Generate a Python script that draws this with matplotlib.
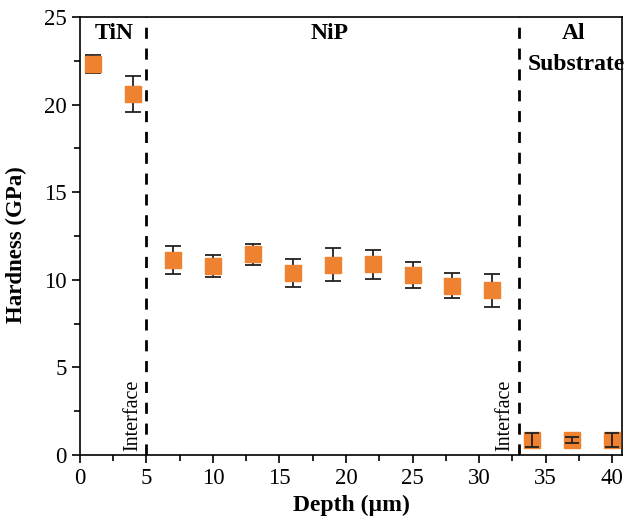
import matplotlib
matplotlib.use("Agg")
import matplotlib.pyplot as plt
from matplotlib.ticker import MultipleLocator

plt.rcParams['font.family'] = ['Liberation Serif', 'DejaVu Serif']

# indentation hardness vs depth
depth = [1, 4, 7, 10, 13, 16, 19, 22, 25, 28, 31]
hardness = [22.3, 20.6, 11.1, 10.8, 11.45, 10.4, 10.85, 10.87, 10.25, 9.67, 9.4]
err = [0.5, 1.0, 0.8, 0.63, 0.6, 0.8, 0.95, 0.85, 0.75, 0.72, 0.93]

sub_depth = [34, 37, 40]
sub_hardness = [0.85, 0.85, 0.85]
sub_err = [0.38, 0.15, 0.4]

interfaces = [5, 33]
orange = '#ee8230'

fig = plt.figure(figsize=(6.24, 5.29), dpi=100)
ax = fig.add_axes([0.128, 0.14, 0.869, 0.828])

ax.errorbar(depth, hardness, yerr=err, fmt='none', ecolor='#222222',
            elinewidth=1.3, capsize=6, capthick=1.3, zorder=2)
ax.plot(depth, hardness, 's', color=orange, ms=11.5, zorder=3)

ax.plot(sub_depth, sub_hardness, 's', color=orange, ms=11.5, zorder=3)
ax.errorbar(sub_depth, sub_hardness, yerr=sub_err, fmt='none', ecolor='#222222',
            elinewidth=1.3, capsize=5, capthick=1.3, zorder=4)

for xi in interfaces:
    ax.axvline(xi, color='black', lw=2, ls=(0, (4, 3.5)), zorder=1)

bold = dict(fontsize=17, fontweight='bold', ha='center', va='center')
ax.text(2.55, 24.05, 'TiN', **bold)
ax.text(18.8, 24.05, 'NiP', **bold)
ax.text(37.1, 24.05, 'Al', **bold)
ax.text(37.3, 22.3, 'Substrate', **bold)
ax.text(3.95, 0.2, 'Interface', fontsize=14.5, rotation=90, ha='center', va='bottom')
ax.text(31.95, 0.2, 'Interface', fontsize=14.5, rotation=90, ha='center', va='bottom')

ax.set_xlim(0, 40.75)
ax.set_ylim(0, 25)
ax.xaxis.set_major_locator(MultipleLocator(5))
ax.xaxis.set_minor_locator(MultipleLocator(2.5))
ax.yaxis.set_major_locator(MultipleLocator(5))
ax.yaxis.set_minor_locator(MultipleLocator(2.5))
ax.tick_params(which='major', direction='out', length=6, width=1.2, labelsize=16.5)
ax.tick_params(which='minor', direction='out', length=4, width=1.2)
for s in ax.spines.values():
    s.set_linewidth(1.2)

ax.set_xlabel('Depth (µm)', fontsize=17, fontweight='bold', labelpad=4)
ax.set_ylabel('Hardness (GPa)', fontsize=16.5, fontweight='bold')
ax.yaxis.set_label_coords(-0.098, 0.48)

fig.savefig('out.png', dpi=100)
